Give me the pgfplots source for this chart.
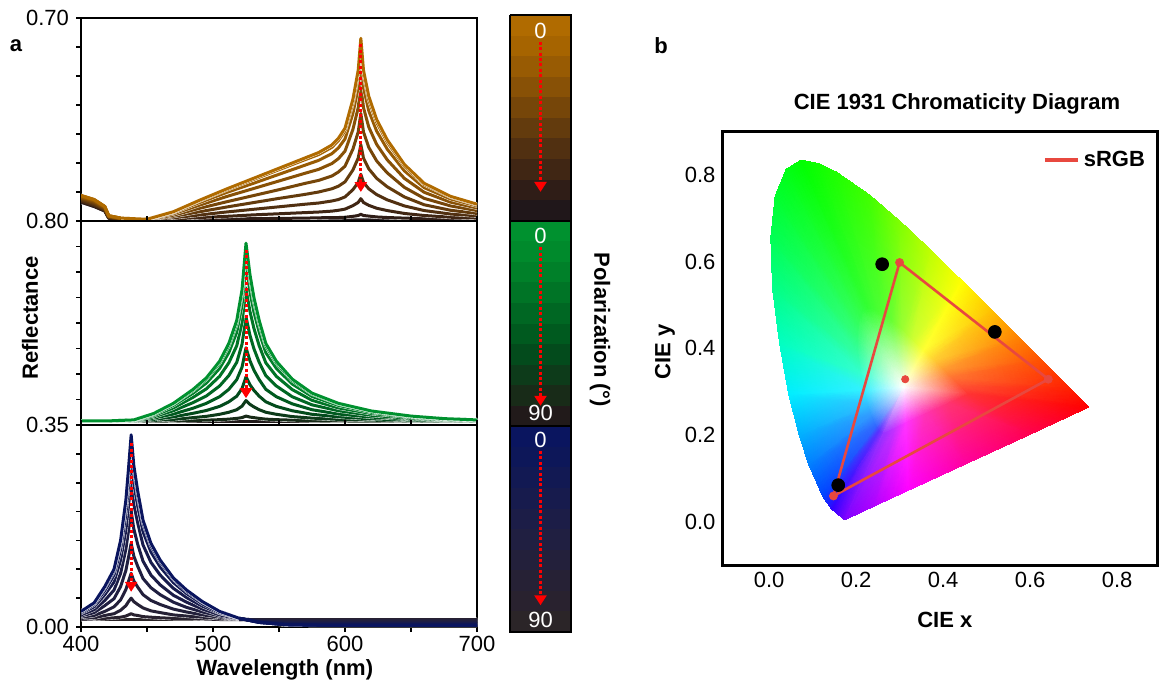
\documentclass[border=0pt]{standalone}
\usepackage{pgfplots}
\pgfplotsset{compat=1.18}
\usepackage{pgfplotstable}
\usepackage{fontspec}
\setmainfont{Liberation Sans}
\usetikzlibrary{arrows.meta}
\usepgfplotslibrary{patchplots}

% brown / green / blue families (0 deg ... 90 deg)
\definecolor{tb0}{HTML}{B06B00}\definecolor{tb1}{HTML}{A66400}\definecolor{tb2}{HTML}{985B03}
\definecolor{tb3}{HTML}{885106}\definecolor{tb4}{HTML}{764609}\definecolor{tb5}{HTML}{633B0D}
\definecolor{tb6}{HTML}{513011}\definecolor{tb7}{HTML}{402614}\definecolor{tb8}{HTML}{2F1D17}
\definecolor{tb9}{HTML}{20171A}
\definecolor{gb0}{HTML}{00912F}\definecolor{gb1}{HTML}{008A2C}\definecolor{gb2}{HTML}{008029}
\definecolor{gb3}{HTML}{007426}\definecolor{gb4}{HTML}{006723}\definecolor{gb5}{HTML}{005A1F}
\definecolor{gb6}{HTML}{034B1C}\definecolor{gb7}{HTML}{0D3B1A}\definecolor{gb8}{HTML}{182B18}
\definecolor{gb9}{HTML}{211A1A}
\definecolor{bb0}{HTML}{0A155F}\definecolor{bb1}{HTML}{0D1759}\definecolor{bb2}{HTML}{121953}
\definecolor{bb3}{HTML}{171B4D}\definecolor{bb4}{HTML}{1C1D47}\definecolor{bb5}{HTML}{201F41}
\definecolor{bb6}{HTML}{23203B}\definecolor{bb7}{HTML}{262135}\definecolor{bb8}{HTML}{29222F}
\definecolor{bb9}{HTML}{2B2528}
\definecolor{srgb}{HTML}{E8483F}
% spectral locus colours
\definecolor{E1}{HTML}{7F00FF}\definecolor{E2}{HTML}{3000FF}\definecolor{E3}{HTML}{0040FF}
\definecolor{E4}{HTML}{0080FF}\definecolor{E5}{HTML}{00B0FF}\definecolor{E6}{HTML}{00EEFF}
\definecolor{E7}{HTML}{00FFC0}\definecolor{E8}{HTML}{00FF88}\definecolor{E9}{HTML}{00FF55}
\definecolor{E10}{HTML}{00FF30}\definecolor{E11}{HTML}{00FF15}\definecolor{E12}{HTML}{00FF00}
\definecolor{E13}{HTML}{10FF00}\definecolor{E14}{HTML}{20FF00}\definecolor{E15}{HTML}{40FF00}
\definecolor{E16}{HTML}{80FF00}\definecolor{E17}{HTML}{C0FF00}\definecolor{E18}{HTML}{FFFF00}
\definecolor{E19}{HTML}{FFC000}\definecolor{E20}{HTML}{FF8000}\definecolor{E21}{HTML}{FF5000}
\definecolor{E22}{HTML}{FF2000}\definecolor{E23}{HTML}{FF0000}\definecolor{E24}{HTML}{FF0050}
\definecolor{E25}{HTML}{FF00A0}\definecolor{E26}{HTML}{FF00FF}\definecolor{E27}{HTML}{B000FF}
\colorlet{R1}{E1!80!white}\colorlet{R2}{E2!80!white}\colorlet{R3}{E3!80!white}
\colorlet{R4}{E4!80!white}\colorlet{R5}{E5!80!white}\colorlet{R6}{E6!80!white}
\colorlet{R7}{E7!80!white}\colorlet{R8}{E8!80!white}\colorlet{R9}{E9!80!white}
\colorlet{R10}{E10!80!white}\colorlet{R11}{E11!80!white}\colorlet{R12}{E12!80!white}
\colorlet{R13}{E13!80!white}\colorlet{R14}{E14!80!white}\colorlet{R15}{E15!80!white}
\colorlet{R16}{E16!80!white}\colorlet{R17}{E17!80!white}\colorlet{R18}{E18!80!white}
\colorlet{R19}{E19!80!white}\colorlet{R20}{E20!80!white}\colorlet{R21}{E21!80!white}
\colorlet{R22}{E22!80!white}\colorlet{R23}{E23!80!white}\colorlet{R24}{E24!80!white}
\colorlet{R25}{E25!80!white}\colorlet{R26}{E26!80!white}\colorlet{R27}{E27!80!white}

\pgfplotstableread{
x c0 c1 c2 c3 c4 c5 c6 c7 c8 c9
400 .088 .087 .085 .082 .079 .075 .071 .068 .066 .065
410 .074 .073 .071 .068 .064 .060 .056 .053 .051 .050
418 .050 .050 .048 .046 .044 .041 .039 .037 .035 .035
421 .018 .018 .017 .016 .015 .013 .012 .011 .010 .010
430 .010 .010 .009 .009 .008 .006 .006 .005 .004 .004
450 .006 .006 .006 .006 .005 .005 .005 .004 .004 .004
470 .032 .031 .029 .025 .020 .016 .011 .007 .005 .004
490 .072 .070 .064 .055 .044 .032 .021 .012 .006 .004
510 .110 .107 .098 .084 .066 .048 .031 .016 .007 .004
530 .146 .142 .129 .111 .087 .063 .040 .021 .008 .004
550 .182 .177 .161 .138 .108 .078 .049 .025 .009 .004
570 .218 .212 .193 .165 .130 .092 .058 .029 .010 .004
580 .236 .229 .209 .178 .140 .100 .062 .031 .011 .004
590 .262 .254 .232 .198 .155 .111 .069 .034 .012 .004
595 .285 .277 .252 .215 .169 .120 .074 .037 .012 .004
600 .320 .311 .283 .241 .189 .135 .083 .041 .013 .004
606 .420 .408 .371 .316 .248 .176 .108 .053 .016 .004
610 .520 .505 .460 .391 .307 .217 .133 .064 .019 .004
612 .630 .611 .557 .474 .371 .263 .161 .077 .023 .004
614 .520 .505 .460 .391 .307 .217 .133 .064 .019 .004
618 .430 .417 .380 .324 .254 .180 .111 .054 .017 .004
624 .350 .340 .310 .264 .207 .147 .091 .044 .014 .004
632 .280 .272 .248 .211 .166 .118 .073 .036 .012 .004
645 .195 .189 .173 .147 .116 .083 .052 .026 .010 .004
660 .130 .126 .115 .099 .078 .056 .036 .019 .008 .004
680 .085 .083 .076 .065 .052 .037 .024 .013 .006 .004
700 .058 .056 .052 .045 .036 .026 .018 .010 .006 .004
}\tabT

\pgfplotstableread{
x c0 c1 c2 c3 c4 c5 c6 c7 c8 c9
400 .016 .016 .016 .016 .015 .015 .015 .014 .014 .014
420 .016 .016 .016 .016 .015 .015 .015 .014 .014 .014
440 .020 .020 .019 .019 .018 .016 .016 .015 .014 .014
455 .045 .044 .041 .037 .032 .027 .022 .018 .015 .014
470 .085 .083 .077 .067 .056 .043 .032 .022 .016 .014
485 .140 .136 .125 .109 .088 .066 .046 .029 .018 .014
495 .185 .180 .165 .142 .114 .085 .057 .034 .019 .014
505 .250 .243 .222 .191 .153 .111 .073 .042 .021 .014
512 .320 .311 .284 .244 .194 .140 .091 .050 .023 .014
518 .410 .398 .364 .311 .246 .178 .113 .060 .026 .014
522 .530 .515 .470 .401 .317 .227 .143 .074 .029 .014
525 .713 .692 .631 .538 .424 .303 .189 .096 .035 .014
528 .590 .573 .523 .446 .352 .252 .158 .081 .031 .014
531 .500 .485 .443 .379 .299 .215 .136 .071 .029 .014
535 .410 .398 .364 .311 .246 .178 .113 .060 .026 .014
540 .320 .311 .284 .244 .194 .140 .091 .050 .023 .014
548 .250 .243 .222 .191 .153 .111 .073 .042 .021 .014
560 .180 .175 .161 .139 .111 .083 .056 .033 .019 .014
575 .125 .122 .112 .097 .079 .060 .042 .027 .017 .014
595 .085 .083 .077 .067 .056 .043 .032 .022 .016 .014
620 .055 .054 .050 .045 .038 .031 .024 .019 .015 .014
650 .035 .034 .033 .030 .026 .023 .019 .016 .015 .014
675 .025 .025 .024 .022 .020 .019 .017 .015 .014 .014
700 .020 .020 .019 .019 .018 .016 .016 .015 .014 .014
}\tabM

\pgfplotstableread{
x c0 c1 c2 c3 c4 c5 c6 c7 c8 c9
400 .027 .027 .025 .024 .021 .019 .017 .015 .013 .013
410 .042 .041 .039 .035 .030 .025 .020 .016 .014 .013
418 .070 .068 .063 .056 .046 .037 .027 .020 .015 .013
425 .100 .097 .090 .078 .064 .049 .035 .023 .016 .013
430 .150 .146 .134 .116 .093 .070 .047 .029 .017 .013
434 .220 .214 .196 .168 .135 .098 .065 .037 .019 .013
436 .275 .267 .244 .210 .167 .121 .079 .044 .021 .013
438 .333 .323 .296 .253 .201 .145 .093 .050 .023 .013
440 .280 .272 .249 .213 .170 .123 .080 .044 .021 .013
443 .235 .228 .209 .180 .143 .105 .069 .039 .020 .013
447 .185 .180 .165 .142 .114 .084 .056 .033 .018 .013
453 .145 .141 .130 .112 .090 .068 .046 .028 .017 .013
460 .116 .113 .104 .090 .073 .056 .039 .025 .016 .013
470 .085 .083 .077 .067 .055 .043 .031 .021 .015 .013
480 .064 .062 .058 .051 .043 .034 .026 .019 .015 .013
492 .044 .043 .040 .036 .031 .026 .021 .017 .014 .013
505 .027 .027 .025 .024 .021 .019 .017 .015 .013 .013
520 .015 .015 .015 .015 .014 .014 .014 .013 .013 .013
535 .008 .008 .009 .009 .010 .011 .012 .012 .013 .013
555 .004 .004 .005 .006 .008 .009 .011 .012 .013 .013
580 .003 .003 .004 .006 .007 .009 .011 .012 .013 .013
700 .003 .003 .004 .006 .007 .009 .011 .012 .013 .013
}\tabB

% triangles of the chromaticity gamut: white point, inner ring, spectral locus
\pgfplotstableread{
x y c
.31 .31 color=white
.2624 .2033 color=R1
.2519 .2120 color=R2
.2624 .2033 color=R1
.174 .005 color=E1
.144 .030 color=E2
.2624 .2033 color=R1
.144 .030 color=E2
.2519 .2120 color=R2
.31 .31 color=white
.2519 .2120 color=R2
.2449 .2218 color=R3
.2519 .2120 color=R2
.144 .030 color=E2
.124 .058 color=E3
.2519 .2120 color=R2
.124 .058 color=E3
.2449 .2218 color=R3
.31 .31 color=white
.2449 .2218 color=R3
.2334 .2481 color=R4
.2449 .2218 color=R3
.124 .058 color=E3
.091 .133 color=E4
.2449 .2218 color=R3
.091 .133 color=E4
.2334 .2481 color=R4
.31 .31 color=white
.2334 .2481 color=R4
.2257 .2719 color=R5
.2334 .2481 color=R4
.091 .133 color=E4
.069 .201 color=E5
.2334 .2481 color=R4
.069 .201 color=E5
.2257 .2719 color=R5
.31 .31 color=white
.2257 .2719 color=R5
.2173 .3048 color=R6
.2257 .2719 color=R5
.069 .201 color=E5
.045 .295 color=E6
.2257 .2719 color=R5
.045 .295 color=E6
.2173 .3048 color=R6
.31 .31 color=white
.2173 .3048 color=R6
.2099 .3461 color=R7
.2173 .3048 color=R6
.045 .295 color=E6
.024 .413 color=E7
.2173 .3048 color=R6
.024 .413 color=E7
.2099 .3461 color=R7
.31 .31 color=white
.2099 .3461 color=R7
.2043 .3898 color=R8
.2099 .3461 color=R7
.024 .413 color=E7
.008 .538 color=E8
.2099 .3461 color=R7
.008 .538 color=E8
.2043 .3898 color=R8
.31 .31 color=white
.2043 .3898 color=R8
.2029 .4308 color=R9
.2043 .3898 color=R8
.008 .538 color=E8
.004 .655 color=E9
.2043 .3898 color=R8
.004 .655 color=E9
.2029 .4308 color=R9
.31 .31 color=white
.2029 .4308 color=R9
.2064 .4640 color=R10
.2029 .4308 color=R9
.004 .655 color=E9
.014 .750 color=E10
.2029 .4308 color=R9
.014 .750 color=E10
.2064 .4640 color=R10
.31 .31 color=white
.2064 .4640 color=R10
.2152 .4857 color=R11
.2064 .4640 color=R10
.014 .750 color=E10
.039 .812 color=E11
.2064 .4640 color=R10
.039 .812 color=E11
.2152 .4857 color=R11
.31 .31 color=white
.2152 .4857 color=R11
.2274 .4934 color=R12
.2152 .4857 color=R11
.039 .812 color=E11
.074 .834 color=E12
.2152 .4857 color=R11
.074 .834 color=E12
.2274 .4934 color=R12
.31 .31 color=white
.2274 .4934 color=R12
.2414 .4906 color=R13
.2274 .4934 color=R12
.074 .834 color=E12
.114 .826 color=E13
.2274 .4934 color=R12
.114 .826 color=E13
.2414 .4906 color=R13
.31 .31 color=white
.2414 .4906 color=R13
.2558 .4836 color=R14
.2414 .4906 color=R13
.114 .826 color=E13
.155 .806 color=E14
.2414 .4906 color=R13
.155 .806 color=E14
.2558 .4836 color=R14
.31 .31 color=white
.2558 .4836 color=R14
.2820 .4654 color=R15
.2558 .4836 color=R14
.155 .806 color=E14
.230 .754 color=E15
.2558 .4836 color=R14
.230 .754 color=E15
.2820 .4654 color=R15
.31 .31 color=white
.2820 .4654 color=R15
.3072 .4437 color=R16
.2820 .4654 color=R15
.230 .754 color=E15
.302 .692 color=E16
.2820 .4654 color=R15
.302 .692 color=E16
.3072 .4437 color=R16
.31 .31 color=white
.3072 .4437 color=R16
.3321 .4203 color=R17
.3072 .4437 color=R16
.302 .692 color=E16
.373 .625 color=E17
.3072 .4437 color=R16
.373 .625 color=E17
.3321 .4203 color=R17
.31 .31 color=white
.3321 .4203 color=R17
.3569 .3958 color=R18
.3321 .4203 color=R17
.373 .625 color=E17
.444 .555 color=E18
.3321 .4203 color=R17
.444 .555 color=E18
.3569 .3958 color=R18
.31 .31 color=white
.3569 .3958 color=R18
.3811 .3720 color=R19
.3569 .3958 color=R18
.444 .555 color=E18
.513 .487 color=E19
.3569 .3958 color=R18
.513 .487 color=E19
.3811 .3720 color=R19
.31 .31 color=white
.3811 .3720 color=R19
.4028 .3499 color=R20
.3811 .3720 color=R19
.513 .487 color=E19
.575 .424 color=E20
.3811 .3720 color=R19
.575 .424 color=E20
.4028 .3499 color=R20
.31 .31 color=white
.4028 .3499 color=R20
.4210 .3321 color=R21
.4028 .3499 color=R20
.575 .424 color=E20
.627 .373 color=E21
.4028 .3499 color=R20
.627 .373 color=E21
.4210 .3321 color=R21
.31 .31 color=white
.4210 .3321 color=R21
.4437 .3093 color=R22
.4210 .3321 color=R21
.627 .373 color=E21
.692 .308 color=E22
.4210 .3321 color=R21
.692 .308 color=E22
.4437 .3093 color=R22
.31 .31 color=white
.4437 .3093 color=R22
.4588 .2943 color=R23
.4437 .3093 color=R22
.692 .308 color=E22
.735 .265 color=E23
.4437 .3093 color=R22
.735 .265 color=E23
.4588 .2943 color=R23
.31 .31 color=white
.4588 .2943 color=R23
.4115 .2722 color=R24
.4588 .2943 color=R23
.735 .265 color=E23
.600 .202 color=E24
.4588 .2943 color=R23
.600 .202 color=E24
.4115 .2722 color=R24
.31 .31 color=white
.4115 .2722 color=R24
.3590 .2481 color=R25
.4115 .2722 color=R24
.600 .202 color=E24
.450 .133 color=E25
.4115 .2722 color=R24
.450 .133 color=E25
.3590 .2481 color=R25
.31 .31 color=white
.3590 .2481 color=R25
.3135 .2271 color=R26
.3590 .2481 color=R25
.450 .133 color=E25
.320 .073 color=E26
.3590 .2481 color=R25
.320 .073 color=E26
.3135 .2271 color=R26
.31 .31 color=white
.3135 .2271 color=R26
.2855 .2141 color=R27
.3135 .2271 color=R26
.320 .073 color=E26
.240 .036 color=E27
.3135 .2271 color=R26
.240 .036 color=E27
.2855 .2141 color=R27
.31 .31 color=white
.2855 .2141 color=R27
.2624 .2033 color=R1
.2855 .2141 color=R27
.240 .036 color=E27
.174 .005 color=E1
.2855 .2141 color=R27
.174 .005 color=E1
.2624 .2033 color=R1
}\cietri

\tikzset{
  curve/.style={line width=1.5pt, line join=round, preaction={draw=white, line width=1.9pt}},
  flat/.style={line width=1.5pt, line join=round},
  redarrow/.style={draw=red, line width=1.5pt, dash pattern=on 1.5pt off 1.2pt, -{Triangle[length=5pt,width=6pt]}},
}
\pgfplotsset{
  panel/.style={scale only axis, width=198pt, xmin=400, xmax=700,
    axis line style={line width=1pt}, tick style={black, line width=0.8pt},
    major tick length=2.5pt, tick align=outside, ytick pos=left,
    font=\fontsize{11}{13}\selectfont, ticklabel style={font=\fontsize{11}{13}\selectfont}},
}
\newcommand\seg[3]{\addplot[fill=#1, draw=none] coordinates {(0,#2) (1,#2) (1,#3) (0,#3)};}

\begin{document}
\begin{tikzpicture}
\path[use as bounding box] (0,0) rectangle (579.5pt,341pt);

% ---------- top panel ----------
\begin{axis}[panel, at={(40.5pt,230.5pt)}, anchor=south west, height=101.5pt,
  ymin=0, ymax=0.7, xtick=\empty,
  ytick={0,0.1,0.2,0.3,0.4,0.5,0.6,0.7}, yticklabels={,,,,,,,0.70}]
\pgfplotsinvokeforeach{9,8,...,0}{\addplot[curve, color=tb#1] table[x=x, y=c#1] {\tabT};}
\pgfplotsinvokeforeach{9,8,...,0}{\addplot[flat, color=tb#1, restrict x to domain=400:440] table[x=x, y=c#1] {\tabT};}
\addplot[redarrow] coordinates {(612,0.61) (612,0.10)};
\end{axis}

% ---------- middle panel ----------
\begin{axis}[panel, at={(40.5pt,128.5pt)}, anchor=south west, height=102pt,
  ymin=0, ymax=0.8, xtick={400,450,...,700}, xtick pos=top, xticklabels={},
  ytick={0,0.1,0.2,0.3,0.4,0.5,0.6,0.7,0.8}, yticklabels={,,,,,,,,0.80},
  ylabel={\bfseries Reflectance},
  ylabel style={at={(axis description cs:-0.129,0.525)}, anchor=center}]
\pgfplotsinvokeforeach{9,8,...,0}{\addplot[curve, color=gb#1] table[x=x, y=c#1] {\tabM};}
\addplot[redarrow] coordinates {(525,0.686) (525,0.105)};
\end{axis}

% ---------- bottom panel ----------
\begin{axis}[panel, at={(40.5pt,27.5pt)}, anchor=south west, height=101pt,
  ymin=0, ymax=0.35, xtick={400,450,...,700}, xtick pos=both, xticklabel pos=bottom,
  xticklabels={400,,500,,600,,700}, xticklabel style={yshift=1.5pt},
  ytick={0,0.05,0.1,0.15,0.2,0.25,0.3,0.35}, yticklabels={0.00,,,,,,,0.35},
  xlabel={\bfseries Wavelength (nm)},
  xlabel style={at={(axis description cs:0.515,-0.21)}, anchor=center}]
\pgfplotsinvokeforeach{9,8,...,0}{\addplot[curve, color=bb#1] table[x=x, y=c#1] {\tabB};}
\pgfplotsinvokeforeach{9,8,...,0}{\addplot[flat, color=bb#1, restrict x to domain=520:700] table[x=x, y=c#1] {\tabB};}
\addplot[redarrow] coordinates {(438,0.318) (438,0.061)};
\end{axis}

% ---------- colour bar ----------
\begin{axis}[at={(255pt,25pt)}, anchor=south west, scale only axis, width=30.5pt, height=308.5pt,
  xmin=0, xmax=1, ymin=0, ymax=30, y dir=reverse, hide axis, clip=false]
\seg{tb0}{0}{1}\seg{tb1}{1}{2}\seg{tb2}{2}{3}\seg{tb3}{3}{4}\seg{tb4}{4}{5}
\seg{tb5}{5}{6}\seg{tb6}{6}{7}\seg{tb7}{7}{8}\seg{tb8}{8}{9}\seg{tb9}{9}{10}
\seg{gb0}{10}{11}\seg{gb1}{11}{12}\seg{gb2}{12}{13}\seg{gb3}{13}{14}\seg{gb4}{14}{15}
\seg{gb5}{15}{16}\seg{gb6}{16}{17}\seg{gb7}{17}{18}\seg{gb8}{18}{19}\seg{gb9}{19}{20}
\seg{bb0}{20}{21}\seg{bb1}{21}{22}\seg{bb2}{22}{23}\seg{bb3}{23}{24}\seg{bb4}{24}{25}
\seg{bb5}{25}{26}\seg{bb6}{26}{27}\seg{bb7}{27}{28}\seg{bb8}{28}{29}\seg{bb9}{29}{30}
\addplot[black, line width=1pt] coordinates {(0,0) (1,0) (1,10) (0,10) (0,0)};
\addplot[black, line width=1pt] coordinates {(0,10) (1,10) (1,20) (0,20) (0,10)};
\addplot[black, line width=1pt] coordinates {(0,20) (1,20) (1,30) (0,30) (0,20)};
\addplot[redarrow] coordinates {(0.5,1.3) (0.5,8.6)};
\addplot[redarrow] coordinates {(0.5,11.3) (0.5,19.0)};
\addplot[redarrow] coordinates {(0.5,21.2) (0.5,28.7)};
\node[white, font=\fontsize{11}{13}\selectfont] at (axis cs:0.5,0.75) {0};
\node[white, font=\fontsize{11}{13}\selectfont] at (axis cs:0.5,10.75) {0};
\node[white, font=\fontsize{11}{13}\selectfont] at (axis cs:0.5,19.35) {90};
\node[white, font=\fontsize{11}{13}\selectfont] at (axis cs:0.5,20.66) {0};
\node[white, font=\fontsize{11}{13}\selectfont] at (axis cs:0.5,29.4) {90};
\end{axis}

% ---------- CIE diagram ----------
\begin{axis}[at={(361.25pt,58.3pt)}, anchor=south west, scale only axis, width=217.5pt, height=217pt,
  xmin=-0.107, xmax=0.893, ymin=-0.1, ymax=0.9,
  xtick={0,0.2,0.4,0.6,0.8}, xticklabels={0.0,0.2,0.4,0.6,0.8},
  ytick={0,0.2,0.4,0.6,0.8}, yticklabels={0.0,0.2,0.4,0.6,0.8},
  major tick length=0pt, axis line style={line width=1.2pt},
  font=\fontsize{11}{13}\selectfont, ticklabel style={font=\fontsize{11}{13}\selectfont},
  xlabel={\bfseries CIE x}, ylabel={\bfseries CIE y},
  xlabel style={at={(axis description cs:0.511,-0.126)}, anchor=center},
  ylabel style={at={(axis description cs:-0.132,0.492)}, anchor=center},
  title={\bfseries CIE 1931 Chromaticity Diagram}, every axis title shift=0pt,
  title style={at={(axis description cs:0.539,1.063)}, anchor=center},
  legend style={at={(axis description cs:0.995,0.975)}, anchor=north east, draw=none, fill=none,
    font=\bfseries\fontsize{11}{13}\selectfont},
  legend image code/.code={\draw[#1, line width=2pt] (0pt,0pt) -- (16.5pt,0pt);}]
\addplot[patch, patch type=triangle, shader=interp, mesh/color input=explicit,
  point meta=explicit symbolic, forget plot]
  table[x=x, y=y, meta=c] {\cietri};
\addplot[srgb, line width=1.3pt, line join=round] coordinates {(0.30,0.598) (0.642,0.329) (0.148,0.060) (0.30,0.598)};
\addlegendentry{sRGB}
\addplot[only marks, mark=*, mark size=3.2pt, black, forget plot] coordinates {(0.260,0.594) (0.519,0.438) (0.159,0.085)};
\addplot[only marks, mark=*, mark size=2pt, srgb, forget plot] coordinates {(0.30,0.598) (0.642,0.329) (0.148,0.060)};
\addplot[only marks, mark=*, mark size=1.8pt, srgb, forget plot] coordinates {(0.313,0.329)};
\end{axis}

\node[font=\bfseries\fontsize{11}{13}\selectfont] at (8pt,318pt) {a};
\node[font=\bfseries\fontsize{11}{13}\selectfont] at (330.5pt,318pt) {b};
\node[rotate=-90, font=\bfseries\fontsize{11}{13}\selectfont] at (300pt,176pt) {Polarization (°)};
\end{tikzpicture}
\end{document}
